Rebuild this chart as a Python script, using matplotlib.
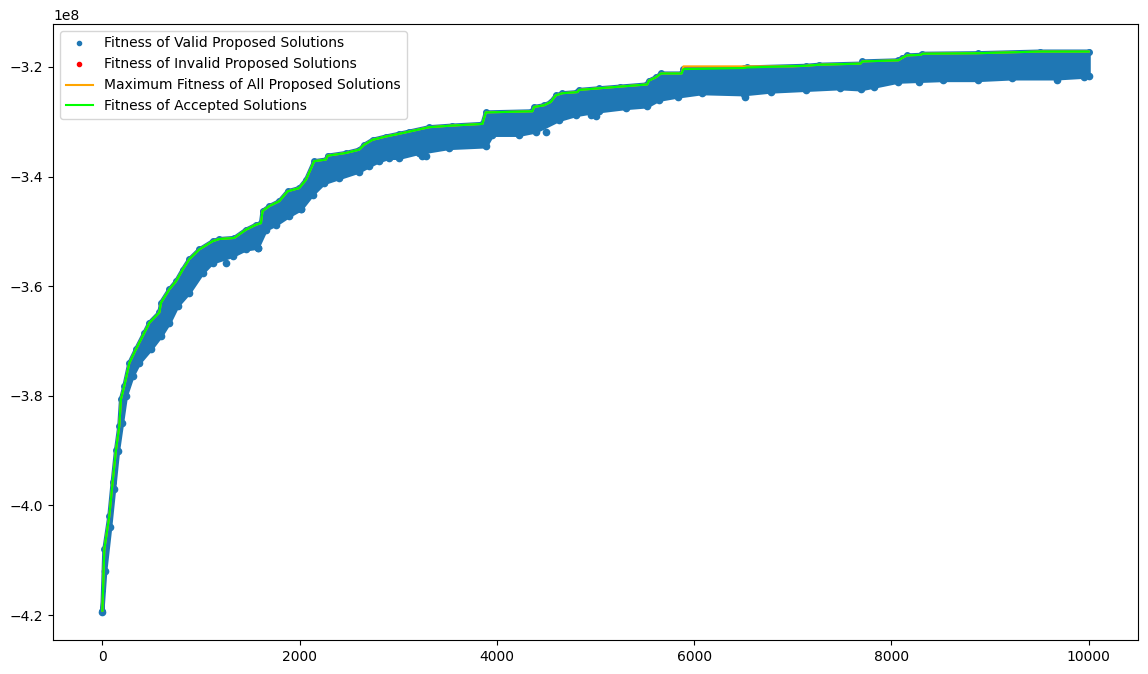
import numpy as np
import matplotlib
matplotlib.use('Agg')
import matplotlib.pyplot as plt

# fitness of accepted solutions (upper edge of the cloud), units of 1e8
acc_iter = [0, 20, 71, 104, 139, 172, 189, 223, 274, 341, 426, 476, 578, 595, 679, 747,
            814, 881, 983, 1118, 1185, 1337, 1456, 1557, 1608, 1624, 1692, 1793, 1878,
            1996, 2064, 2148, 2267, 2283, 2469, 2604, 2655, 2739, 2874, 3009, 3111, 3313,
            3549, 3853, 3888, 4360, 4377, 4478, 4546, 4597, 4664, 4816, 4833, 5036, 5245,
            5524, 5541, 5611, 5664, 5873, 5891, 6501, 6536, 7129, 7269, 7687, 7705, 8071,
            8106, 8158, 8298, 8315, 8874, 9502, 10000]
acc_fit = [-4.192, -4.080, -4.019, -3.958, -3.898, -3.855, -3.806, -3.782, -3.740, -3.715,
           -3.685, -3.667, -3.648, -3.630, -3.606, -3.591, -3.570, -3.551, -3.533, -3.518,
           -3.514, -3.512, -3.497, -3.488, -3.485, -3.463, -3.454, -3.445, -3.427, -3.421,
           -3.406, -3.372, -3.369, -3.362, -3.357, -3.351, -3.342, -3.333, -3.327, -3.322,
           -3.318, -3.310, -3.307, -3.304, -3.283, -3.281, -3.273, -3.270, -3.264, -3.252,
           -3.248, -3.246, -3.242, -3.239, -3.236, -3.232, -3.225, -3.219, -3.212, -3.212,
           -3.204, -3.202, -3.201, -3.198, -3.196, -3.194, -3.190, -3.188, -3.184, -3.179,
           -3.178, -3.176, -3.175, -3.172, -3.172]

# stretch where the best proposal stayed above the accepted one
max_seg_iter = [5891, 7000]
max_seg_fit = [-3.199, -3.199]

# lower edge of the valid proposal cloud
low_iter = [0, 30, 80, 120, 160, 200, 240, 307, 375, 493, 595, 679, 763, 881, 1016, 1118,
            1320, 1456, 1574, 1659, 1760, 1895, 2013, 2131, 2249, 2401, 2604, 2706, 2807,
            2908, 3009, 3211, 3516, 3888, 3955, 4225, 4394, 4630, 4800, 5036, 5314, 5524,
            5646, 5838, 6082, 6501, 6780, 7129, 7478, 7687, 7827, 8071, 8525, 8874, 9222,
            9676, 9955, 10000]
low_fit = [-4.195, -4.120, -4.040, -3.970, -3.900, -3.850, -3.800, -3.764, -3.740, -3.715,
           -3.691, -3.667, -3.636, -3.612, -3.576, -3.557, -3.545, -3.533, -3.530, -3.497,
           -3.488, -3.472, -3.460, -3.433, -3.412, -3.403, -3.391, -3.381, -3.372, -3.366,
           -3.366, -3.357, -3.348, -3.345, -3.324, -3.324, -3.318, -3.297, -3.288, -3.281,
           -3.275, -3.272, -3.260, -3.254, -3.248, -3.250, -3.245, -3.242, -3.239, -3.241,
           -3.236, -3.227, -3.224, -3.224, -3.221, -3.221, -3.218, -3.216]

# isolated low proposals
out_iter = [1253, 1574, 2019, 3245, 3280, 4496, 4951, 5005, 6518, 8280, 8548, 9676]
out_fit = [-3.557, -3.530, -3.460, -3.363, -3.362, -3.318, -3.288, -3.289, -3.254, -3.227,
           -3.221, -3.224]

# invalid proposals: none visible
inv_iter = []
inv_fit = []

scale = 1e8
blue = '#1f77b4'

acc_iter = np.array(acc_iter)
acc_fit = np.array(acc_fit)
before = acc_iter < max_seg_iter[0]
after = acc_iter > max_seg_iter[-1]
max_iter = np.concatenate([acc_iter[before], max_seg_iter, acc_iter[after]])
max_fit = np.concatenate([acc_fit[before], max_seg_fit, acc_fit[after]])

fig = plt.figure(figsize=(11.48, 6.74), dpi=100)
ax = fig.add_axes([0.0462, 0.0504, 0.9451, 0.914])

# cloud of valid proposals drawn as a band between the edges
poly_x = np.concatenate([acc_iter, low_iter[::-1]])
poly_y = np.concatenate([acc_fit, low_fit[::-1]]) * scale
ax.fill(poly_x, poly_y, color=blue, lw=3, edgecolor=blue, zorder=1)
ax.plot(low_iter, np.array(low_fit) * scale, '.', color=blue, ms=9, zorder=1)
ax.plot(acc_iter, acc_fit * scale, '.', color=blue, ms=8, zorder=1)
ax.plot(out_iter, np.array(out_fit) * scale, '.', color=blue, ms=9, zorder=1)

ax.plot([], [], '.', color=blue, label='Fitness of Valid Proposed Solutions')
ax.plot(inv_iter, inv_fit, '.', color='red', label='Fitness of Invalid Proposed Solutions')
ax.plot(max_iter, max_fit * scale, color='orange',
        label='Maximum Fitness of All Proposed Solutions', zorder=2)
ax.plot(acc_iter, acc_fit * scale, color='lime',
        label='Fitness of Accepted Solutions', zorder=3)

ax.set_xlim(-500, 10500)
ax.set_ylim(-4.2455e8, -3.1217e8)
ax.set_xticks([0, 2000, 4000, 6000, 8000, 10000])
ax.legend(loc='upper left')

plt.savefig('out.png')
